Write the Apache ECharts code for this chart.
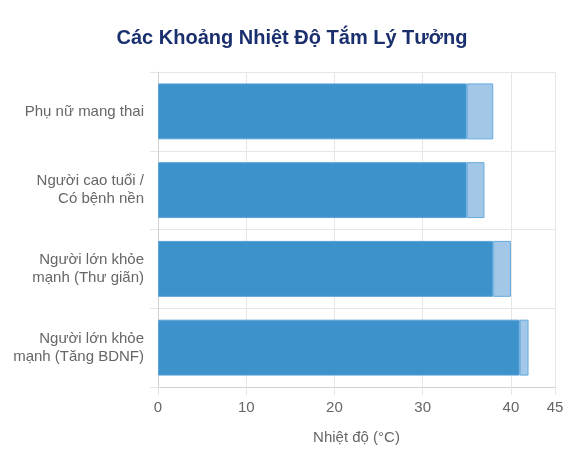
<!DOCTYPE html>
<html>
<head>
<meta charset="utf-8">
<script src="https://cdn.jsdelivr.net/npm/echarts@6/dist/echarts.min.js"></script>
<style>html,body{margin:0;padding:0;background:#fff}#c{width:584px;height:460px}</style>
</head>
<body>
<div id="c"></div>
<script>
const categories = ["Phụ nữ mang thai", "Người cao tuổi /\nCó bệnh nền", "Người lớn khỏe\nmạnh (Thư giãn)", "Người lớn khỏe\nmạnh (Tăng BDNF)"];
const minTemp = [35, 35, 38, 41];
const maxTemp = [38, 37, 40, 42];
const rangeTemp = maxTemp.map((v, i) => v - minTemp[i]);
const FONT = "'Liberation Sans', Arial, Helvetica, sans-serif";
const chart = echarts.init(document.getElementById('c'));
chart.setOption({
  animation: false,
  textStyle: { fontFamily: FONT },
  title: {
    text: 'Các Khoảng Nhiệt Độ Tắm Lý Tưởng',
    left: 'center', top: 23,
    textStyle: { fontSize: 20, fontWeight: 'bold', color: '#1a2f6d', fontFamily: FONT }
  },
  grid: { left: 158, right: 29, top: 72, bottom: 73, containLabel: false },
  xAxis: {
    type: 'value', min: 0, max: 45, interval: 10,
    name: 'Nhiệt độ (°C)', nameLocation: 'middle', nameGap: 43,
    nameTextStyle: { color: '#666', fontSize: 15, fontFamily: FONT },
    axisLine: { show: true, lineStyle: { color: '#d0d0d0' } },
    axisTick: { show: true, length: 8, lineStyle: { color: '#e6e6e6' } },
    axisLabel: { color: '#666', fontSize: 15, margin: 13, fontFamily: FONT },
    splitLine: { show: true, lineStyle: { color: '#e6e6e6' } }
  },
  yAxis: {
    type: 'category', data: categories, inverse: true,
    axisLine: { show: true, lineStyle: { color: '#d0d0d0' } },
    axisTick: { show: true, length: 8, lineStyle: { color: '#e6e6e6' } },
    axisLabel: { color: '#666', fontSize: 15, lineHeight: 18, margin: 14, align: 'right', fontFamily: FONT },
    splitLine: { show: true, lineStyle: { color: '#e6e6e6' } }
  },
  series: [
    {
      name: 'base', type: 'bar', stack: 't', data: minTemp,
      barCategoryGap: '29%',
      itemStyle: { color: '#3d92cb', borderColor: '#5ba3d8', borderWidth: 1 }
    },
    {
      name: 'range', type: 'bar', stack: 't', data: rangeTemp,
      barCategoryGap: '29%',
      itemStyle: { color: '#a3c8e7', borderColor: '#64aadf', borderWidth: 1 }
    }
  ]
});
</script>
</body>
</html>
